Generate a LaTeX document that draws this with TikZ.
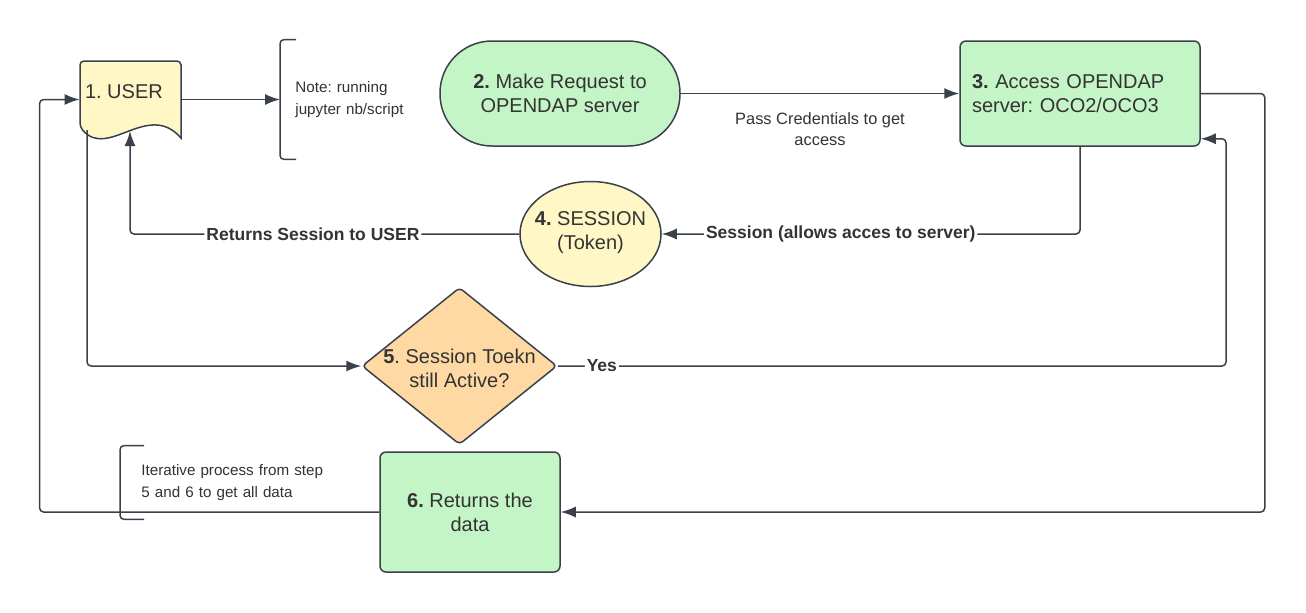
\documentclass[tikz,border=0pt]{standalone}
\usepackage{fontspec}
\setmainfont{Liberation Sans}
\usetikzlibrary{shapes.geometric,arrows.meta}
\definecolor{ln}{HTML}{3A414A}
\definecolor{tx}{HTML}{333333}
\definecolor{grn}{HTML}{C3F5C6}
\definecolor{ylw}{HTML}{FFF8C6}
\definecolor{org}{HTML}{FFD9A3}
\frenchspacing
\begin{document}
\begin{tikzpicture}[x=0.5pt,y=-0.5pt,
  every node/.style={text=tx},
  box/.style={draw=ln, line width=0.75pt},
  mainfont/.style={font=\fontsize{10}{12}\selectfont},
  lbl/.style={font=\bfseries\fontsize{8.75}{10}\selectfont, fill=white, inner sep=1pt},
  smallfont/.style={font=\fontsize{8.2}{10.5}\selectfont},
  notefont/.style={font=\fontsize{7.6}{10.8}\selectfont},
  conn/.style={draw=ln, line width=0.75pt, rounded corners=2pt},
  arr/.style={conn, -{Latex[length=7.5pt,width=5.5pt]}},
]
\fill[white] (0,0) rectangle (1306,612);
\useasboundingbox (0,0) rectangle (1306,612);

% 1. USER (document shape)
\node[minimum width=50.5pt, minimum height=38.5pt, inner sep=0] (user) at (130.5,99.5) {};
\filldraw[box, fill=ylw, rounded corners=2pt] (181,138) -- (181,61) -- (80,61) -- (80,127)
  [sharp corners] .. controls (108,160) and (148,100) .. (181,138) -- cycle;
\node[mainfont, anchor=west, inner sep=0] (usertext) at ([xshift=2.5pt,yshift=3.75pt]user.west) {1. USER};

% note 1
\node[notefont, anchor=west, minimum height=59.5pt, text width=65pt, inner xsep=7.5pt, align=left] (note1) at (280,99.5) {Note: running\\jupyter nb/script};
\draw[conn] ([xshift=8pt]note1.north west) -- (note1.north west) -- (note1.south west) -- ([xshift=8pt]note1.south west);

% 2. request
\node[box, fill=grn, rounded corners=26pt, minimum width=120pt, minimum height=52.5pt, align=center, mainfont] (req) at (560,93.5) {\textbf{2.} Make Request to\\OPENDAP server};

% 3. access
\node[box, fill=grn, rounded corners=3pt, minimum width=120pt, minimum height=52.5pt, text width=108pt, inner xsep=6pt, align=left, mainfont] (acc) at (1080,93.5) {\textbf{3.} Access OPENDAP\\server: OCO2/OCO3};

% 4. session
\node[ellipse, box, fill=ylw, minimum width=70.5pt, minimum height=52.5pt, inner sep=0,
  label={[mainfont, align=center, yshift=0.5pt]center:{\textbf{4.} SESSION\\(Token)}}] (sess) at (590.5,234) {};

% 5. decision
\node[diamond, box, fill=org, rounded corners=2pt, minimum width=97.5pt, minimum height=78.5pt, inner sep=0,
  label={[mainfont, align=center, yshift=-1pt]center:{\textbf{5}. Session Toekn\\still Active?}}] (dia) at (459.5,366) {};

% 6. returns
\node[box, fill=grn, rounded corners=3pt, minimum width=90pt, minimum height=60pt, align=center, mainfont] (ret) at (470,512) {\textbf{6.} Returns the\\data};

% note 2
\node[notefont, anchor=west, minimum height=36.5pt, text width=100pt, inner xsep=10.5pt, align=left] (note2) at (120,482.5) {Iterative process from step\\5 and 6 to get all data};

% connectors
\draw[arr] (user.east) -- (note1.west);
\draw[arr] (req.east) -- node[smallfont, below=6pt, align=center]{Pass Credentials to get\\access} (acc.west);
\draw[arr] (acc.south) |- node[lbl, pos=0.786]{Session (allows acces to server)} (sess.east);
\coordinate (userbot) at (130,131);
\draw[arr] (sess.west) -| node[lbl, pos=0.265]{Returns Session to USER} (userbot);
\coordinate (userbotL) at (87,130);
\draw[arr] (userbotL) |- (dia.west);
\draw[arr] (dia.east) -- node[lbl, pos=0.066]{Yes} (1226,366) |- ([yshift=4pt]acc.south east);
\draw[arr] (acc.east) -- ([xshift=32pt]acc.east) |- (ret.east);
\draw[arr] (ret.west) -| ([xshift=-20pt]user.west) -- (user.west);
\draw[conn] ([xshift=12pt]note2.north west) -- (note2.north west) -- (note2.south west) -- ([xshift=12pt]note2.south west);
\end{tikzpicture}
\end{document}
